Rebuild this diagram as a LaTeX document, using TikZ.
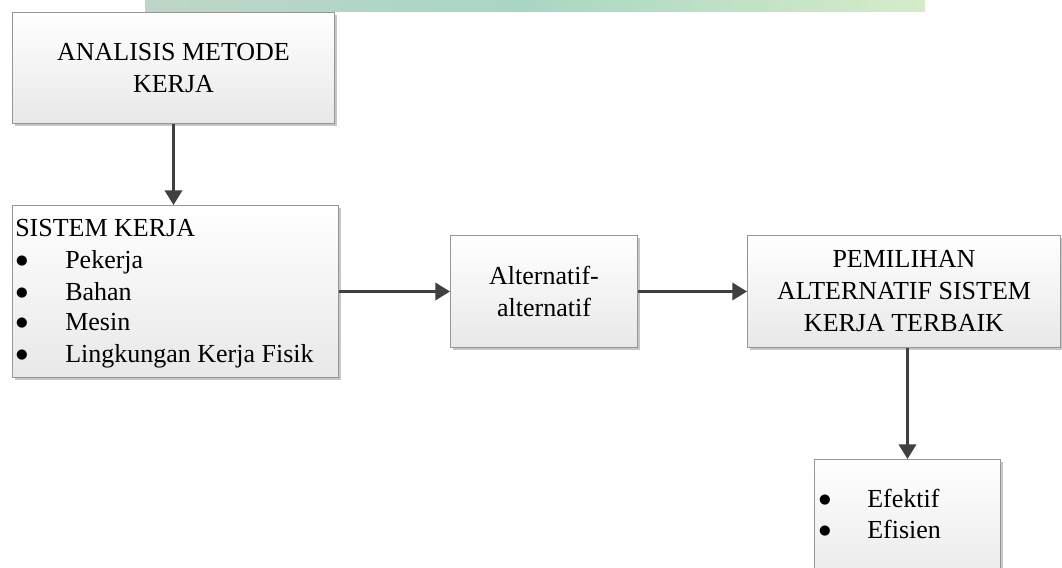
\documentclass[tikz,border=0pt]{standalone}
\usepackage{fontspec}
\setmainfont{Liberation Serif}
\newfontfamily\bulfont{DejaVu Sans}
\usetikzlibrary{shadows,arrows.meta}
\definecolor{edgegray}{RGB}{150,150,150}
\definecolor{fillbottom}{RGB}{232,232,232}
\definecolor{arrowgray}{RGB}{64,64,64}
\definecolor{wmA}{RGB}{190,214,200}
\definecolor{wmB}{RGB}{168,214,196}
\definecolor{wmC}{RGB}{214,236,200}
\begin{document}
\begin{tikzpicture}[x=0.75pt,y=-0.75pt,
  box/.style={draw=edgegray, line width=0.75pt, top color=white, bottom color=fillbottom,
    drop shadow={shadow xshift=2pt,shadow yshift=-2pt,fill=black,opacity=0.22},
    inner sep=0pt, anchor=north west},
  ctext/.style={font=\fontsize{19.5}{24}\selectfont, align=center},
  ltext/.style={font=\fontsize{19.5}{24}\selectfont, inner sep=0pt, anchor=base west},
  bul/.style={font=\bulfont\fontsize{10}{12}\selectfont, inner sep=0pt, anchor=base},
  conn/.style={draw=arrowgray, line width=2pt, -{Triangle[length=11pt,width=13pt]}}]
\useasboundingbox (0,0) rectangle (1062,567);
\clip (0,0) rectangle (1062,567);
\fill[white] (0,0) rectangle (1062,567);
% watermark strip
\shade[left color=wmA, right color=wmB] (145,0) rectangle (520,12);
\shade[left color=wmB, right color=wmC] (520,0) rectangle (925,12);
% boxes
\node[box, ctext, minimum width=241.5pt, minimum height=83.25pt] (b1) at (12,12)
  {ANALISIS METODE\\KERJA};
\node[box, minimum width=244.5pt, minimum height=129pt] (b2) at (12,205) {};
\node[box, ctext, minimum width=140.25pt, minimum height=84pt] (b3) at (450,235)
  {Alternatif-\\alternatif};
\node[box, ctext, minimum width=234.75pt, minimum height=84pt] (b4) at (747,235)
  {PEMILIHAN\\ALTERNATIF SISTEM\\KERJA TERBAIK};
\node[box, minimum width=139.5pt, minimum height=100pt] (b5) at (814,459) {};
% box 2 text
\node[ltext] (t2h) at (15,236) {SISTEM KERJA};
\node[bul] (bu1) at (22,264) {●};
\node[ltext] (t21) at (65,268) {Pekerja};
\node[bul] (bu2) at (22,296) {●};
\node[ltext] (t22) at (65,300) {Bahan};
\node[bul] (bu3) at (22,326) {●};
\node[ltext] (t23) at (65,330) {Mesin};
\node[bul] (bu4) at (22,358) {●};
\node[ltext] (t24) at (65,362) {Lingkungan Kerja Fisik};
% box 5 text
\node[bul] (bu5) at (825,503) {●};
\node[ltext] (t51) at (867,507) {Efektif};
\node[bul] (bu6) at (825,534) {●};
\node[ltext] (t52) at (867,538) {Efisien};
% connectors
\draw[conn] (b1.south) -- (b1.south |- b2.north);
\draw[conn] (b2.east) -- (b3.west);
\draw[conn] (b3.east) -- (b4.west);
\draw[conn] (b5.north |- b4.south) -- (b5.north);
\end{tikzpicture}
\end{document}
